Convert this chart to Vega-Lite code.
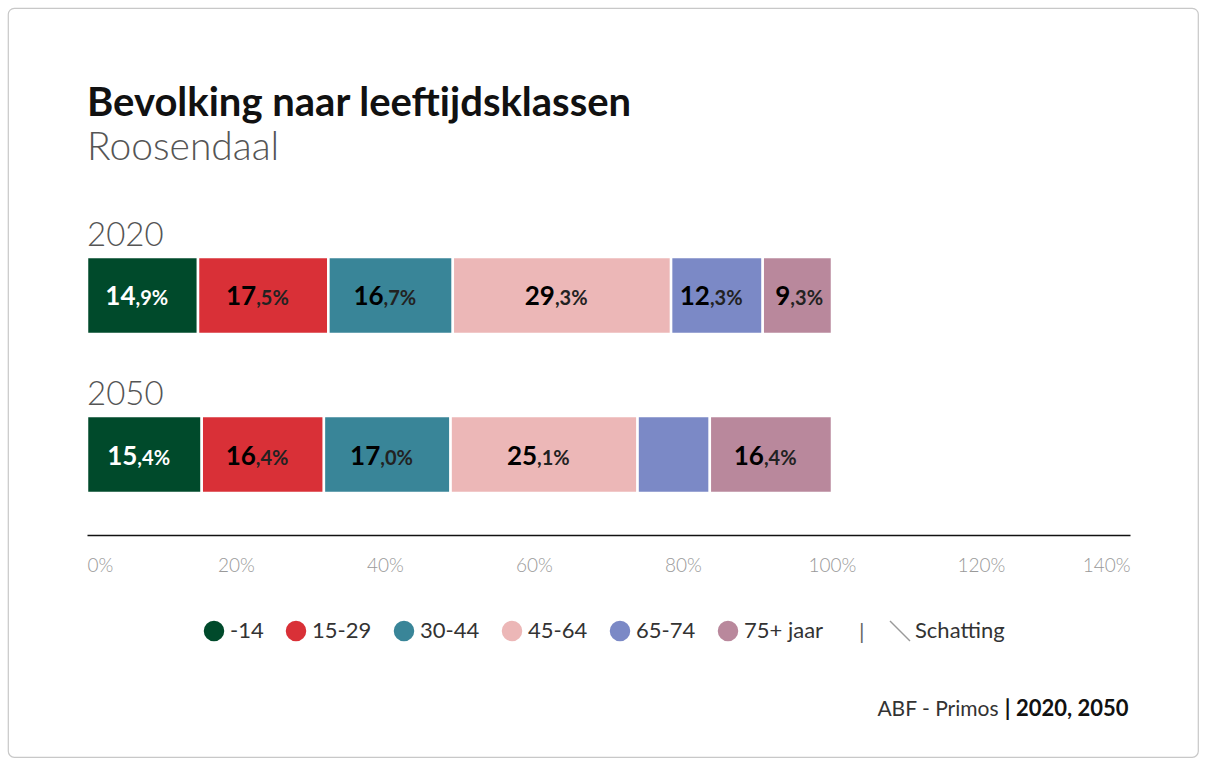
{
  "$schema": "https://vega.github.io/schema/vega-lite/v6.json",
  "width": 1190,
  "height": 749,
  "autosize": "none",
  "padding": {"left": 8, "top": 8, "right": 8, "bottom": 8},
  "background": "white",
  "config": {
    "font": "Lato",
    "view": {"stroke": "#c8c8c8", "strokeWidth": 1.2, "cornerRadius": 6}
  },
  "title": {
    "text": "Bevolking naar leeftijdsklassen",
    "subtitle": "Roosendaal",
    "anchor": "start",
    "frame": "group",
    "orient": "top",
    "font": "Lato",
    "fontSize": 40,
    "fontWeight": "bold",
    "color": "#111111",
    "subtitleFont": "Lato",
    "subtitleFontSize": 39,
    "subtitleFontWeight": 300,
    "subtitleColor": "#555555",
    "subtitlePadding": 5,
    "offset": 0,
    "dx": 79,
    "dy": 160
  },
  "data": {
    "values": [
      {"year": "2020", "group": "-14", "value": 14.9, "int": "14", "dec": ",9%", "order": 1, "bron": "Schatting"},
      {"year": "2020", "group": "15-29", "value": 17.5, "int": "17", "dec": ",5%", "order": 2, "bron": "Schatting"},
      {"year": "2020", "group": "30-44", "value": 16.7, "int": "16", "dec": ",7%", "order": 3, "bron": "Schatting"},
      {"year": "2020", "group": "45-64", "value": 29.3, "int": "29", "dec": ",3%", "order": 4, "bron": "Schatting"},
      {"year": "2020", "group": "65-74", "value": 12.3, "int": "12", "dec": ",3%", "order": 5, "bron": "Schatting"},
      {"year": "2020", "group": "75+ jaar", "value": 9.3, "int": "9", "dec": ",3%", "order": 6, "bron": "Schatting"},
      {"year": "2050", "group": "-14", "value": 15.4, "int": "15", "dec": ",4%", "order": 1, "bron": "Schatting"},
      {"year": "2050", "group": "15-29", "value": 16.4, "int": "16", "dec": ",4%", "order": 2, "bron": "Schatting"},
      {"year": "2050", "group": "30-44", "value": 17.0, "int": "17", "dec": ",0%", "order": 3, "bron": "Schatting"},
      {"year": "2050", "group": "45-64", "value": 25.1, "int": "25", "dec": ",1%", "order": 4, "bron": "Schatting"},
      {"year": "2050", "group": "65-74", "value": 9.7, "int": "", "dec": "", "order": 5, "bron": "Schatting"},
      {"year": "2050", "group": "75+ jaar", "value": 16.4, "int": "16", "dec": ",4%", "order": 6, "bron": "Schatting"}
    ]
  },
  "transform": [
    {"stack": "value", "groupby": ["year"], "sort": [{"field": "order", "order": "ascending"}], "as": ["x0", "x1"]},
    {"calculate": "(datum.x0 + datum.x1) / 2", "as": "xm"}
  ],
  "resolve": {"axis": {"x": "independent"}},
  "layer": [
    {
      "mark": {"type": "bar", "stroke": "white", "strokeWidth": 2.5},
      "encoding": {
        "x": {
          "field": "x0", "type": "quantitative",
          "scale": {"domain": [0, 140], "range": [79, 1122], "nice": false, "zero": false},
          "axis": {
            "orient": "bottom",
            "values": [0, 20, 40, 60, 80, 100, 120, 140],
            "labelExpr": "datum.value + '%'",
            "labelFlush": true,
            "ticks": false,
            "grid": false,
            "domainColor": "#111111",
            "domainWidth": 1.5,
            "labelFontSize": 19,
            "labelFont": "Lato",
            "labelFontWeight": 300,
            "labelColor": "#999999",
            "labelPadding": 21,
            "offset": -222,
            "title": "ABF - Primos",
            "titleX": 990,
            "titleY": 180,
            "titleAlign": "right",
            "titleBaseline": "alphabetic",
            "titleFont": "Lato",
            "titleFontSize": 21,
            "titleFontWeight": "normal",
            "titleColor": "#333333"
          }
        },
        "x2": {"field": "x1"},
        "y": {
          "field": "year", "type": "nominal",
          "scale": {"domain": ["2020", "2050"], "range": [249, 485], "paddingInner": 0.516, "paddingOuter": 0},
          "axis": null
        },
        "color": {
          "field": "group", "type": "nominal",
          "scale": {
            "domain": ["-14", "15-29", "30-44", "45-64", "65-74", "75+ jaar"],
            "range": ["#004a2b", "#d93037", "#398598", "#ecb7b7", "#7b89c6", "#b9889c"]
          },
          "legend": {
            "orient": "none",
            "legendX": 195,
            "legendY": 612,
            "direction": "horizontal",
            "title": null,
            "symbolType": "circle",
            "symbolSize": 420,
            "symbolStrokeWidth": 0,
            "labelFont": "Lato",
            "labelFontSize": 22,
            "labelColor": "#333333",
            "labelOffset": 5,
            "columnPadding": 21
          }
        }
      }
    },
    {
      "mark": {"type": "point", "opacity": 0, "filled": false, "color": "#9a9a9a", "strokeWidth": 1.5},
      "encoding": {
        "x": {"field": "xm", "type": "quantitative", "axis": null},
        "y": {"field": "year", "type": "nominal", "axis": null},
        "shape": {
          "field": "bron", "type": "nominal",
          "scale": {"domain": ["Schatting"], "range": ["M-1,-1L1,1"]},
          "legend": {
            "orient": "none",
            "legendX": 851,
            "legendY": 612,
            "direction": "horizontal",
            "title": "|",
            "titleOrient": "left",
            "titleFont": "Lato",
            "titleFontSize": 22,
            "titleFontWeight": "normal",
            "titleColor": "#666666",
            "titlePadding": 24,
            "symbolSize": 400,
            "labelFont": "Lato",
            "labelFontSize": 22,
            "labelColor": "#333333",
            "labelOffset": 4
          }
        }
      }
    },
    {
      "mark": {"type": "text", "align": "right", "baseline": "alphabetic", "dx": -7, "dy": 10, "fontSize": 26, "fontWeight": "bold", "font": "Lato"},
      "encoding": {
        "x": {
          "field": "xm", "type": "quantitative",
          "axis": {
            "orient": "bottom",
            "labels": false,
            "ticks": false,
            "domain": false,
            "grid": false,
            "offset": -222,
            "title": "| 2020, 2050",
            "titleX": 1120,
            "titleY": 180,
            "titleAlign": "right",
            "titleBaseline": "alphabetic",
            "titleFont": "Lato",
            "titleFontSize": 22,
            "titleFontWeight": "bold",
            "titleColor": "#111111"
          }
        },
        "y": {"field": "year", "type": "nominal", "axis": null},
        "text": {"field": "int"},
        "color": {"condition": {"test": "datum.group === '-14'", "value": "white"}, "value": "black"}
      }
    },
    {
      "mark": {"type": "text", "align": "left", "baseline": "alphabetic", "dx": -7, "dy": 10, "fontSize": 20, "fontWeight": "bold", "font": "Lato"},
      "encoding": {
        "x": {"field": "xm", "type": "quantitative", "axis": null},
        "y": {"field": "year", "type": "nominal", "axis": null},
        "text": {"field": "dec"},
        "color": {"condition": {"test": "datum.group === '-14'", "value": "white"}, "value": "#222222"}
      }
    },
    {
      "transform": [{"filter": "datum.order === 1"}],
      "mark": {"type": "text", "align": "left", "baseline": "alphabetic", "dy": -11, "fontSize": 33, "fontWeight": 300, "font": "Lato", "color": "#555555"},
      "encoding": {
        "x": {"field": "x0", "type": "quantitative", "axis": null},
        "y": {"field": "year", "type": "nominal", "bandPosition": 0, "axis": null},
        "text": {"field": "year"}
      }
    }
  ]
}
